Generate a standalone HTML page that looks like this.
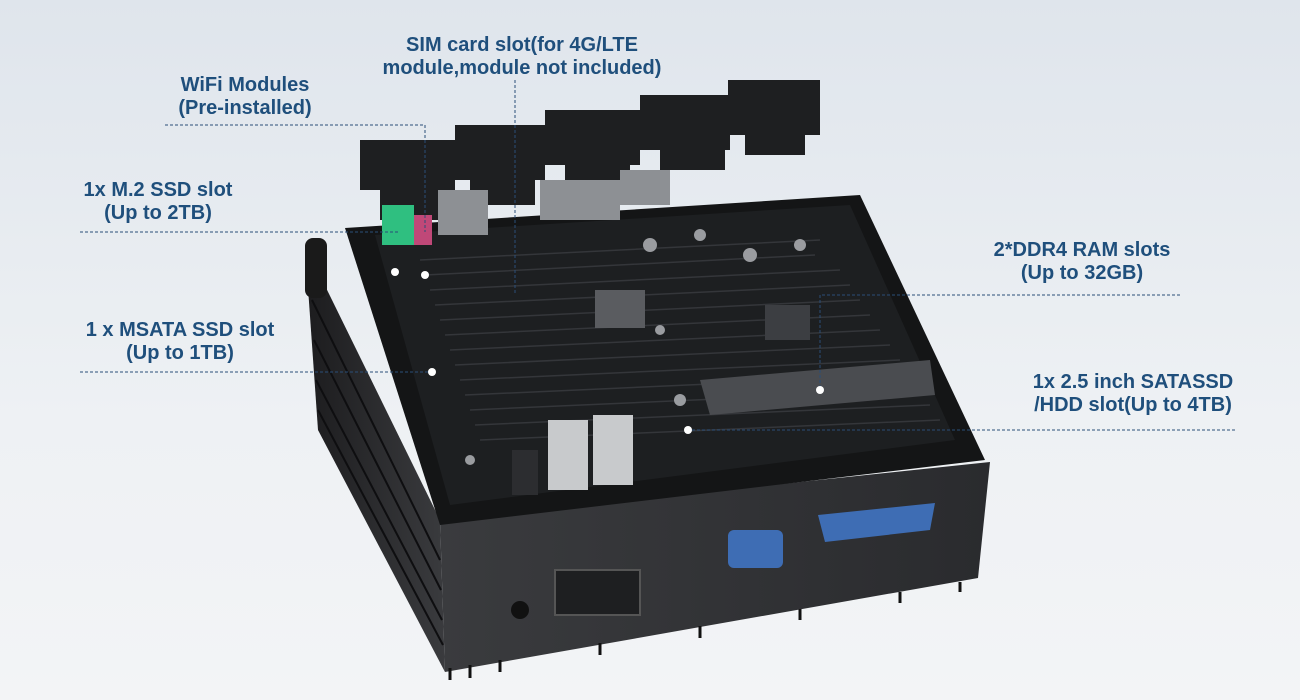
<!DOCTYPE html>
<html><head><meta charset="utf-8"><style>
html,body{margin:0;padding:0}
body{width:1300px;height:700px;overflow:hidden;background:linear-gradient(180deg,#dfe5ec 0%,#eef1f4 60%,#f3f4f6 100%);font-family:"Liberation Sans",sans-serif;position:relative}
.t{position:absolute;color:#1f4f7c;font-weight:bold;font-size:20px;line-height:23px;text-align:center;white-space:nowrap;transform:translateX(-50%)}
svg{position:absolute;left:0;top:0}
</style></head><body>
<svg width="1300" height="700" viewBox="0 0 1300 700">
<defs>
<linearGradient id="side" x1="0" x2="1"><stop offset="0" stop-color="#1c1c1e"/><stop offset="1" stop-color="#3a3b3e"/></linearGradient>
<linearGradient id="front" x1="0" x2="1"><stop offset="0" stop-color="#3a3b3e"/><stop offset="1" stop-color="#2a2b2e"/></linearGradient>
</defs>
<polygon points="305,245 440,520 445,672 318,430" fill="url(#side)"/>
<g stroke="#0e0e10" stroke-width="2">
<line x1="312" y1="300" x2="440" y2="560"/><line x1="314" y1="340" x2="441" y2="590"/><line x1="316" y1="380" x2="442" y2="620"/><line x1="318" y1="410" x2="443" y2="645"/>
</g>
<polygon points="440,520 990,462 978,578 445,672" fill="url(#front)"/>
<g stroke="#111" stroke-width="3">
<line x1="450" y1="668" x2="450" y2="680"/><line x1="470" y1="665" x2="470" y2="678"/>
<line x1="500" y1="660" x2="500" y2="672"/><line x1="600" y1="643" x2="600" y2="655"/>
<line x1="700" y1="626" x2="700" y2="638"/><line x1="800" y1="609" x2="800" y2="620"/>
<line x1="900" y1="592" x2="900" y2="603"/><line x1="960" y1="582" x2="960" y2="592"/>
</g>
<polygon points="345,228 860,195 985,460 440,525" fill="#141516"/>
<polygon points="375,235 850,205 955,440 450,505" fill="#1d1f21"/>
<g stroke="#34363a" stroke-width="1.5" fill="none">
<path d="M420,260 L820,240 M430,290 L840,270 M440,320 L860,300 M450,350 L880,330 M460,380 L900,360 M470,410 L920,390 M480,440 L940,420"/>
<path d="M425,275 L815,255 M435,305 L850,285 M445,335 L870,315 M455,365 L890,345 M465,395 L910,375 M475,425 L930,405"/>
</g>
<polygon points="700,380 930,360 935,395 710,415" fill="#4a4c50"/>
<rect x="595" y="290" width="50" height="38" fill="#5a5c60"/>
<rect x="765" y="305" width="45" height="35" fill="#3c3e42"/>
<g fill="#9a9ca0"><circle cx="650" cy="245" r="7"/><circle cx="700" cy="235" r="6"/><circle cx="750" cy="255" r="7"/><circle cx="800" cy="245" r="6"/><circle cx="660" cy="330" r="5"/><circle cx="680" cy="400" r="6"/><circle cx="470" cy="460" r="5"/></g>
<rect x="548" y="420" width="40" height="70" fill="#c8cacc"/>
<rect x="593" y="415" width="40" height="70" fill="#c8cacc"/>
<rect x="512" y="450" width="26" height="45" fill="#2c2d30"/>
<g fill="#1e1f21">
<rect x="360" y="140" width="95" height="50"/><rect x="380" y="165" width="60" height="55"/>
<rect x="455" y="125" width="90" height="55"/><rect x="470" y="150" width="65" height="55"/>
<rect x="545" y="110" width="95" height="55"/><rect x="565" y="130" width="65" height="55"/>
<rect x="640" y="95" width="90" height="55"/><rect x="660" y="115" width="65" height="55"/>
<rect x="728" y="80" width="92" height="55"/><rect x="745" y="100" width="60" height="55"/>
</g>
<g fill="#8d9094"><rect x="438" y="190" width="50" height="45"/><rect x="540" y="180" width="80" height="40"/><rect x="620" y="170" width="50" height="35"/></g>
<rect x="382" y="205" width="32" height="40" fill="#2fbf80"/>
<rect x="414" y="215" width="18" height="30" fill="#c04878"/>
<rect x="305" y="238" width="22" height="60" rx="8" fill="#1a1a1a"/>
<rect x="728" y="530" width="55" height="38" rx="6" fill="#3e6db4"/>
<polygon points="818,515 935,503 930,530 825,542" fill="#3e6db4"/>
<rect x="555" y="570" width="85" height="45" fill="#1e1f21" stroke="#555" stroke-width="2"/>
<circle cx="520" cy="610" r="9" fill="#111"/>
<g stroke="#2a4e78" stroke-width="1" stroke-dasharray="3,2" fill="none">
<path d="M165,125 L425,125 L425,232"/>
<path d="M515,80 L515,295"/>
<path d="M80,232 L400,232"/>
<path d="M80,372 L432,372"/>
<path d="M1180,295 L820,295 L820,390"/>
<path d="M1235,430 L688,430"/>
</g>
<circle cx="425" cy="275" r="4" fill="#fff"/><circle cx="395" cy="272" r="4" fill="#fff"/>
<circle cx="432" cy="372" r="4" fill="#fff"/><circle cx="820" cy="390" r="4" fill="#fff"/>
<circle cx="688" cy="430" r="4" fill="#fff"/>
</svg>
<div class="t" style="left:522px;top:34px">SIM card slot(for 4G/LTE<br>module,module not included)</div>
<div class="t" style="left:245px;top:74px">WiFi Modules<br>(Pre-installed)</div>
<div class="t" style="left:158px;top:179px">1x M.2 SSD slot<br>(Up to 2TB)</div>
<div class="t" style="left:180px;top:319px">1 x MSATA SSD slot<br>(Up to 1TB)</div>
<div class="t" style="left:1082px;top:239px">2*DDR4 RAM slots<br>(Up to 32GB)</div>
<div class="t" style="left:1133px;top:371px">1x 2.5 inch SATASSD<br>/HDD slot(Up to 4TB)</div>
</body></html>
